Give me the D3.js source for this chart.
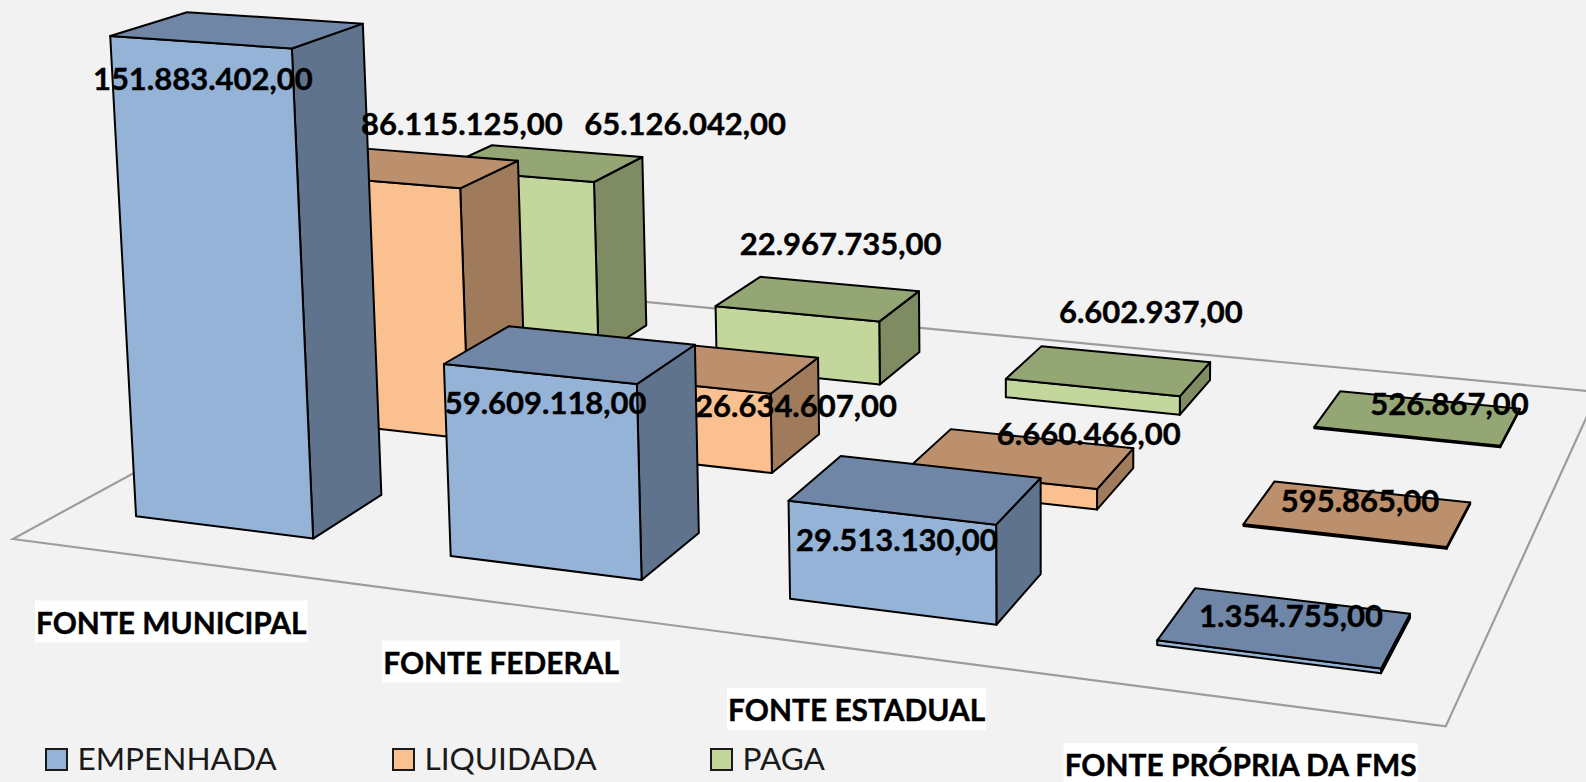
<!DOCTYPE html>
<html lang="pt">
<head>
<meta charset="utf-8">
<title>Despesa por fonte</title>
<script src="https://cdn.jsdelivr.net/npm/d3@7"></script>
<style>
html,body{margin:0;padding:0;background:#f2f2f2;overflow:hidden}
svg{display:block}
text{font-family:Lato,"Open Sans",sans-serif}
</style>
</head>
<body>
<div id="chart"></div>
<script>
// ---- data ----
const categories = ["FONTE MUNICIPAL", "FONTE FEDERAL", "FONTE ESTADUAL", "FONTE PRÓPRIA DA FMS"];
const seriesNames = ["EMPENHADA", "LIQUIDADA", "PAGA"];
const empenhada = [151883402, 59609118, 29513130, 1354755];
const liquidada = [86115125, 26634607, 6660466, 595865];
const paga = [65126042, 22967735, 6602937, 526867];
const seriesValues = [empenhada, liquidada, paga];

// ---- styling / layout ----
const W = 1586, H = 782;
const faceColors = [
  {front:"#95b3d7", top:"#7086a6", side:"#5f738d"},
  {front:"#fac090", top:"#bc906c", side:"#9f7b5b"},
  {front:"#c3d69b", top:"#95a675", side:"#7e8b63"}
];
// manual data-label displacement from the top centre of each bar [series][category]
const labelShift = [
  [[-35,60.5],[-25,59.5],[-19,61.5],[6,0.5]],
  [[55,-33],[89,50.5],[67,-13.5],[2,-1.5]],
  [[143.5,-28],[22.5,-43.5],[42,-47.5],[31.5,-2.5]]
];
const catLabelShift = [[1.2,74],[1.8,71],[1.2,72],[-1.5,76.3]];
const legendX = [46, 393, 711];

// ---- scales ----
const uScale = d3.scaleBand().domain(categories).range([0.0015,1.0015]).paddingInner(0.428).paddingOuter(0.214);
const vScale = d3.scaleBand().domain(seriesNames).range([0,1]).paddingInner(0.585).paddingOuter(0.2925);
const zScale = d3.scaleLinear().domain([0,151883402]).range([0,-0.02807]);

// camera: floor corners on screen and vertical vanishing point
const floor = {p00:[12.8,539], p10:[1445.7,726.4], p11:[1598,392], p01:[477,286]};
const vanish = [1050,17500];
const cam = (() => {
  const {p00:[x0,y0],p10:[x1,y1],p11:[x2,y2],p01:[x3,y3]} = floor;
  const dx1=x1-x2, dx2=x3-x2, sx=x0-x1+x2-x3, dy1=y1-y2, dy2=y3-y2, sy=y0-y1+y2-y3;
  const den=dx1*dy2-dx2*dy1;
  const g=(sx*dy2-dx2*sy)/den, h=(dx1*sy-sx*dy1)/den;
  return {a:x1-x0+g*x1,b:x3-x0+h*x3,c:x0,d:y1-y0+g*y1,e:y3-y0+h*y3,f:y0,g,h};
})();
function project(u,v,value){
  const w=cam.g*u+cam.h*v+1;
  const bx=(cam.a*u+cam.b*v+cam.c)/w, by=(cam.d*u+cam.e*v+cam.f)/w;
  const cz=zScale(value||0), t=cz/(w+cz);
  return [bx+(vanish[0]-bx)*t, by+(vanish[1]-by)*t];
}

const fmt = d3.formatLocale({decimal:",",thousands:".",grouping:[3],currency:["R$",""]}).format(",.2f");

const svg = d3.select("#chart").append("svg").attr("width",W).attr("height",H).attr("viewBox",[0,0,W,H]);
svg.append("rect").attr("width",W).attr("height",H).attr("fill","#f2f2f2");

// floor
svg.append("polygon")
  .attr("points",[[0,0],[1,0],[1,1],[0,1]].map(([u,v])=>{
    const w=cam.g*u+cam.h*v+1;
    return [(cam.a*u+cam.b*v+cam.c)/w,(cam.d*u+cam.e*v+cam.f)/w].join(",");
  }).join(" "))
  .attr("fill","none").attr("stroke","#9c9c9c").attr("stroke-width",2.2);

// bars, back row first
const bars = [];
[2,1,0].forEach(s=>categories.forEach((c,i)=>{
  bars.push({s,i,cat:c,ser:seriesNames[s],value:seriesValues[s][i]});
}));
const toPts = pts => pts.map(p=>p.join(",")).join(" ");
const barG = svg.append("g").selectAll("g").data(bars).join("g")
  .attr("stroke","#000").attr("stroke-width",2).attr("stroke-linejoin","round");
barG.each(function(d){
  const u0=uScale(d.cat),u1=u0+uScale.bandwidth(),v0=vScale(d.ser),v1=v0+vScale.bandwidth();
  const c=faceColors[d.s], g=d3.select(this), z=d.value;
  g.append("polygon").attr("fill",c.side)
    .attr("points",toPts([project(u1,v0,0),project(u1,v1,0),project(u1,v1,z),project(u1,v0,z)]));
  g.append("polygon").attr("fill",c.front)
    .attr("points",toPts([project(u0,v0,0),project(u1,v0,0),project(u1,v0,z),project(u0,v0,z)]));
  g.append("polygon").attr("fill",c.top)
    .attr("points",toPts([project(u0,v0,z),project(u1,v0,z),project(u1,v1,z),project(u0,v1,z)]));
});

// data labels
const topCentre = d => project(uScale(d.cat)+uScale.bandwidth()/2,vScale(d.ser)+vScale.bandwidth()/2,d.value);
svg.append("g").selectAll("text").data(bars).join("text")
  .attr("text-anchor","middle").attr("font-size",31).attr("font-weight",700).attr("fill","#000")
  .attr("stroke","#000").attr("stroke-width",0.4)
  .attr("x",d=>topCentre(d)[0]+labelShift[d.s][d.i][0])
  .attr("y",d=>topCentre(d)[1]+labelShift[d.s][d.i][1])
  .text(d=>fmt(d.value));

// category labels with white plates
const catG = svg.append("g").selectAll("g").data(categories).join("g")
  .attr("transform",(c,i)=>{
    const p=project(uScale(c)+uScale.bandwidth()/2,0,0);
    return `translate(${p[0]+catLabelShift[i][0]},${p[1]+catLabelShift[i][1]})`;
  });
catG.append("rect").attr("fill","#fff");
const catText = catG.append("text").attr("text-anchor","middle").attr("font-size",29.9).attr("font-weight",700).attr("fill","#000")
  .attr("stroke","#000").attr("stroke-width",0.4).text(c=>c);
catText.each(function(){
  const w=this.getComputedTextLength();
  d3.select(this.parentNode).select("rect").attr("x",-w/2-1).attr("y",-33).attr("width",w+2).attr("height",42);
});

// legend
const legG = svg.append("g").selectAll("g").data(seriesNames).join("g")
  .attr("transform",(d,i)=>`translate(${legendX[i]},749)`);
legG.append("rect").attr("width",21).attr("height",21)
  .attr("fill",(d,i)=>faceColors[i].front).attr("stroke","#1a1a1a").attr("stroke-width",2);
legG.append("text").attr("x",31.5).attr("y",20.5).attr("font-size",31.6).attr("fill","#1a1a1a").text(d=>d);
</script>
</body>
</html>
